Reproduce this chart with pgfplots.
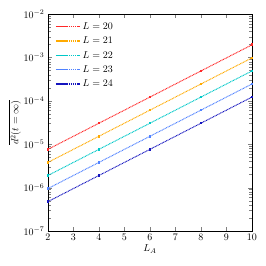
\documentclass[border=0pt]{standalone}
\usepackage{pgfplots}
\pgfplotsset{compat=1.18}
\definecolor{c1}{RGB}{255,40,40}
\definecolor{c2}{RGB}{255,170,0}
\definecolor{c3}{RGB}{0,200,200}
\definecolor{c4}{RGB}{80,130,255}
\definecolor{c5}{RGB}{20,20,190}
\begin{document}
\begin{tikzpicture}
\path[use as bounding box] (0,0) rectangle (266pt,266pt);
\begin{axis}[
  at={(48pt,35pt)}, anchor=south west,
  scale only axis, width=204pt, height=217pt,
  ymode=log, xmin=2, xmax=10, ymin=1e-7, ymax=1e-2,
  xtick={2,3,...,10},
  ytick={1e-7,1e-6,1e-5,1e-4,1e-3,1e-2},
  tick align=inside, tick pos=both,
  xlabel={$L_A$}, ylabel={$\overline{d^2(t=\infty)}$},
  xlabel style={yshift=3pt}, ylabel style={yshift=-4pt},
  legend style={draw=none, fill=none, at={(0.02,0.98)}, anchor=north west, row sep=2pt},
  legend cell align=left,
  legend image code/.code={\draw[#1] (0pt,0pt) -- (24pt,0pt);},
  every axis plot/.append style={dash pattern=on 0.9pt off 0.7pt, line width=1pt, mark=square*, mark size=0.8pt, mark options={solid}},
]
\addlegendimage{draw=c1, line width=1.4pt, dash pattern=on 1.6pt off 0.5pt}
\addlegendentry{$L=20$}
\addlegendimage{draw=c2, line width=1.4pt, dash pattern=on 1.6pt off 0.5pt}
\addlegendentry{$L=21$}
\addlegendimage{draw=c3, line width=1.4pt, dash pattern=on 1.6pt off 0.5pt}
\addlegendentry{$L=22$}
\addlegendimage{draw=c4, line width=1.4pt, dash pattern=on 1.6pt off 0.5pt}
\addlegendentry{$L=23$}
\addlegendimage{draw=c5, line width=1.4pt, dash pattern=on 1.6pt off 0.5pt}
\addlegendentry{$L=24$}
\addplot[c1, forget plot] coordinates {(2,7.629e-6)(4,3.052e-5)(6,1.221e-4)(8,4.883e-4)(10,1.953e-3)};
\addplot[c2, forget plot] coordinates {(2,3.815e-6)(4,1.526e-5)(6,6.104e-5)(8,2.441e-4)(10,9.766e-4)};
\addplot[c3, forget plot] coordinates {(2,1.907e-6)(4,7.629e-6)(6,3.052e-5)(8,1.221e-4)(10,4.883e-4)};
\addplot[c4, forget plot] coordinates {(2,9.537e-7)(4,3.815e-6)(6,1.526e-5)(8,6.104e-5)(10,2.441e-4)};
\addplot[c5, forget plot] coordinates {(2,4.768e-7)(4,1.907e-6)(6,7.629e-6)(8,3.052e-5)(10,1.221e-4)};
\end{axis}
\end{tikzpicture}
\end{document}
